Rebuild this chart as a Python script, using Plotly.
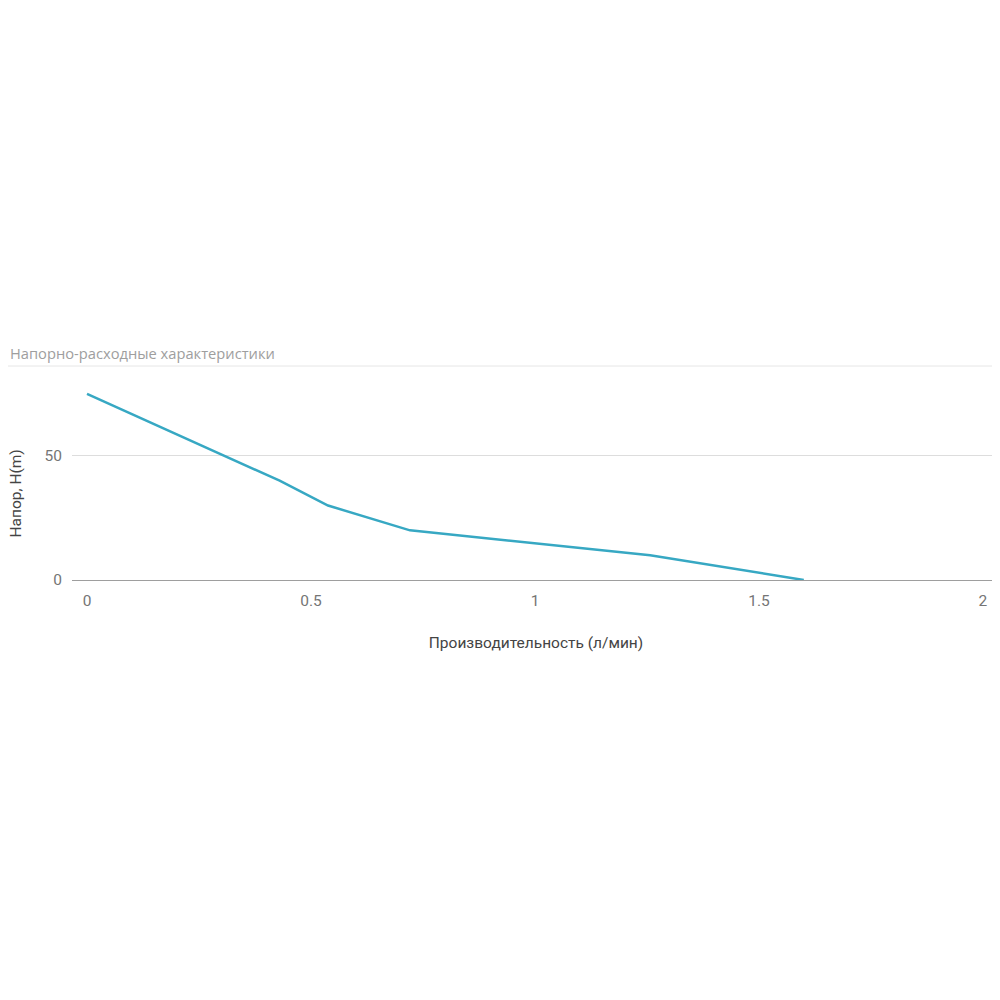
import plotly.graph_objects as go

flow = [0, 0.43, 0.538, 0.721, 1.257, 1.60]
head = [75, 40, 30, 20, 10, 0]

title_text = "Напорно-расходные характеристики"
x_title = "Производительность (л/мин)"
y_title = "Напор, H(m)"
x_ticks = [0, 0.5, 1, 1.5, 2]
x_tick_labels = ["0", "0.5", "1", "1.5", "2"]
y_ticks = [0, 50]
y_tick_labels = ["0", "50"]

fig = go.Figure()
fig.add_trace(go.Scatter(x=flow, y=head, mode="lines",
                         line=dict(color="#37a8c3", width=2.5),
                         hoverinfo="x+y", showlegend=False))

L = 64
W = 992
PW = W - L

fig.update_layout(
    width=W, height=992,
    margin=dict(l=L, r=0, t=361, b=420),
    paper_bgcolor="white", plot_bgcolor="white",
    font=dict(family="Roboto", color="#757575", size=15.5),
    xaxis=dict(range=[-0.0335, 2.038], tickvals=x_ticks, ticktext=x_tick_labels,
               showgrid=False, zeroline=False, showline=False,
               ticks="", ticklabelstandoff=9,
               tickfont=dict(size=15.5, color="#757575"),
               title=dict(text=x_title, font=dict(size=15.5, color="#444444"), standoff=28)),
    yaxis=dict(range=[0, 85], tickvals=y_ticks, ticktext=y_tick_labels,
               showgrid=True, gridcolor="#dddddd", gridwidth=1,
               zeroline=True, zerolinecolor="#9e9e9e", zerolinewidth=1,
               showline=False, ticks="", ticklabelstandoff=9,
               tickfont=dict(size=15.5, color="#757575")),
    annotations=[
        dict(text=title_text, xref="paper", yref="paper", x=-L/PW, y=1.0,
             xanchor="left", yanchor="bottom", yshift=4, showarrow=False,
             font=dict(family="Open Sans", size=14.7, color="#9e9e9e")),
        dict(text=y_title, xref="paper", yref="paper", x=-L/PW, y=0.41,
             xanchor="left", yanchor="middle", xshift=-3, textangle=-90, showarrow=False,
             font=dict(size=15.5, color="#444444")),
    ],
    shapes=[dict(type="line", xref="paper", yref="paper", x0=-L/PW, x1=1.0,
                 y0=1.0 + 3/211, y1=1.0 + 3/211, line=dict(color="#e6e6e6", width=1))],
)

fig.write_html("out.html")
